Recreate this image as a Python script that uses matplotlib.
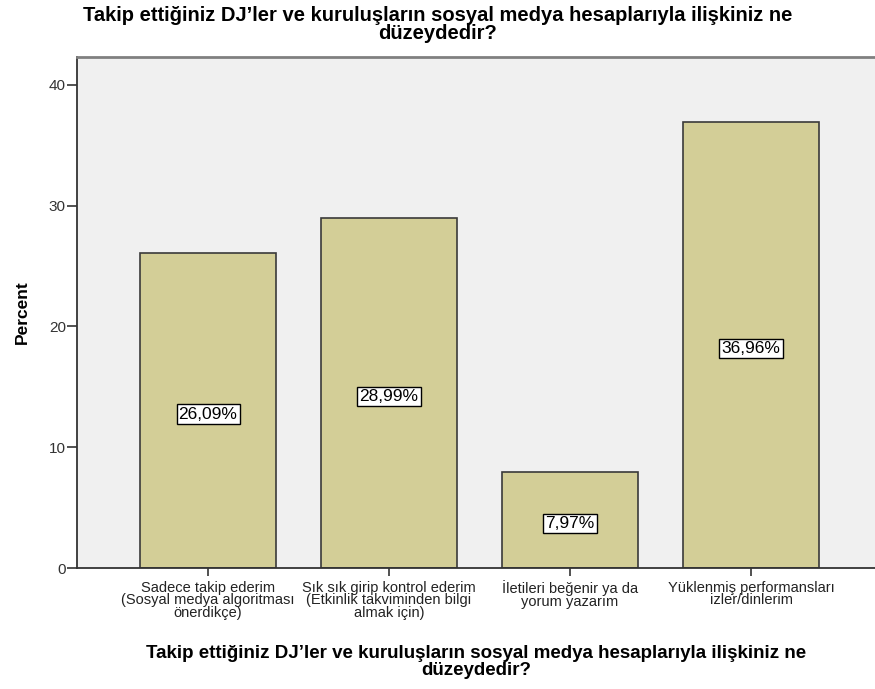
import matplotlib
matplotlib.use("Agg")
import matplotlib.pyplot as plt
import numpy as np

plt.rcParams['font.family'] = ['Liberation Sans', 'DejaVu Sans']

categories = ['Sadece takip ederim\n(Sosyal medya algoritması\nönerdikçe)',
              'Sık sık girip kontrol ederim\n(Etkinlik takviminden bilgi\nalmak için)',
              'İletileri beğenir ya da\nyorum yazarım',
              'Yüklenmiş performansları\nizler/dinlerim']
percents = [26.09, 28.99, 7.97, 36.96]
value_labels = ['26,09%', '28,99%', '7,97%', '36,96%']

title = 'Takip ettiğiniz DJ’ler ve kuruluşların sosyal medya hesaplarıyla ilişkiniz ne\ndüzeydedir?'

fig = plt.figure(figsize=(8.75, 6.89), dpi=100)
ax = fig.add_axes([0.088, 0.1756, 0.912, 0.7415])
ax.set_facecolor('#F0F0F0')

x = np.arange(len(categories))
ax.bar(x, percents, width=0.75, color='#D3CE97', edgecolor='#3a3a3a', linewidth=1.2, zorder=2)

for xi, p, lab in zip(x, percents, value_labels):
    ax.text(xi, p / 2 - 0.3, lab, ha='center', va='center', fontsize=12.5, zorder=3,
            bbox=dict(boxstyle='square,pad=0.12', facecolor='white', edgecolor='black', linewidth=1))

ax.set_xlim(-0.724, 3.685)
ax.set_ylim(0, 42.3)
ax.set_yticks([0, 10, 20, 30, 40])
ax.set_xticks(x)
ax.set_xticklabels(categories, fontsize=10.5, color='#222222', linespacing=0.9)
ax.tick_params(axis='y', length=7, width=1.2, color='#333333', labelsize=11, labelcolor='#333333', pad=1)
ax.tick_params(axis='x', length=6, width=1.2, color='#333333', pad=3)

for s in ['left', 'bottom']:
    ax.spines[s].set_color('#333333')
    ax.spines[s].set_linewidth(1.3)
ax.spines['top'].set_color('#808080')
ax.spines['top'].set_linewidth(2)
ax.spines['right'].set_visible(False)

ax.set_ylabel('Percent', fontsize=12.5, fontweight='bold', labelpad=14)
ax.set_xlabel(title, fontsize=13.5, fontweight='bold', linespacing=1.0, labelpad=18)
fig.suptitle(title, fontsize=14.5, fontweight='bold', y=0.992, linespacing=0.95)

fig.savefig('out.png', dpi=100)
